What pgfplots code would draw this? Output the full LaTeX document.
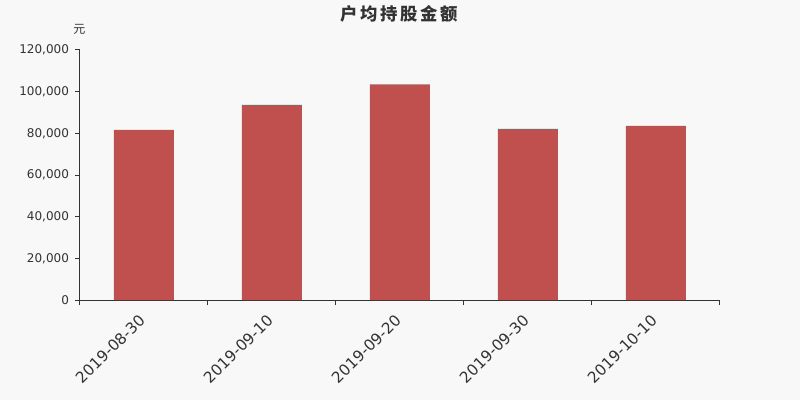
\documentclass[border=0pt]{standalone}
\usepackage{pgfplots}
\pgfplotsset{compat=1.18}
\usepackage{fontspec}
\setmainfont{DejaVu Sans}
\newfontfamily\cjk{Noto Sans CJK SC}
\definecolor{bg}{HTML}{F8F8F8}
\definecolor{barc}{RGB}{192,80,77}
\definecolor{axc}{HTML}{333333}
\begin{document}
\begin{tikzpicture}
\useasboundingbox[fill=bg] (-60pt,-75pt) rectangle (540pt,225pt);
\begin{axis}[
  at={(0,0)}, anchor=south west,
  scale only axis,
  width=480pt, height=187.5pt,
  xmin=-0.5, xmax=4.5,
  ymin=0, ymax=120000,
  axis x line*=bottom, axis y line*=left,
  axis line style={draw=axc, line width=0.75pt},
  tick style={draw=axc, line width=0.75pt},
  tick align=outside,
  major tick length=3.75pt,
  xtick={-0.5,0.5,1.5,2.5,3.5,4.5},
  x tick label as interval,
  xticklabels={2019-08-30,2019-09-10,2019-09-20,2019-09-30,2019-10-10},
  xticklabel style={rotate=45, anchor=north east, font=\fontsize{11.5pt}{13pt}\selectfont, text=axc, inner sep=1pt, xshift=-6.5pt, yshift=0pt},
  ytick={0,20000,40000,60000,80000,100000,120000},
  yticklabels={0,{20,000},{40,000},{60,000},{80,000},{100,000},{120,000}},
  scaled y ticks=false,
  yticklabel style={font=\fontsize{9pt}{10pt}\selectfont, text=axc, xshift=-1pt},
  ybar, bar width=45pt,
  enlargelimits=false,
  clip=false,
]
\addplot[fill=barc, draw=none] coordinates {(0,81600) (1,93600) (2,103550) (3,82080) (4,83520)};
\end{axis}
\node[font=\cjk\bfseries\fontsize{13pt}{15pt}\selectfont, text=axc] at (239.5pt,214.8pt) {户\hspace{2pt}均\hspace{2pt}持\hspace{2pt}股\hspace{2pt}金\hspace{2pt}额};
\node[font=\cjk\fontsize{9pt}{10pt}\selectfont, text=axc] at (-0.4pt,203.3pt) {元};
\end{tikzpicture}
\end{document}
